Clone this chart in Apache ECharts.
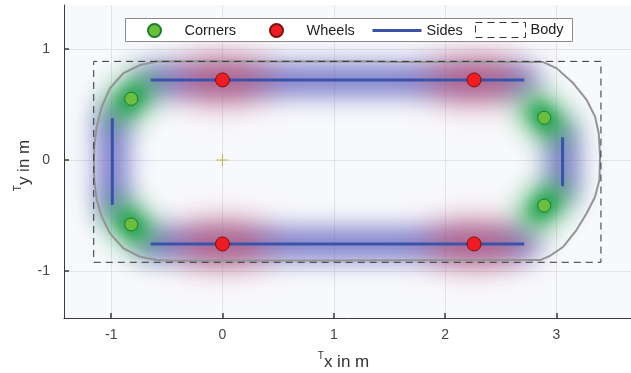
<!DOCTYPE html>
<html>
<head>
<meta charset="utf-8">
<script src="https://cdn.jsdelivr.net/npm/echarts@6/dist/echarts.min.js"></script>
<style>
  html, body { margin: 0; padding: 0; background: #ffffff; }
  #chart { width: 631px; height: 373px; }
</style>
</head>
<body>
<div id="chart"></div>
<script>
// ---- data (metres, vehicle frame) ----
const xTicks = [-1, 0, 1, 2, 3];
const yTicks = [-1, 0, 1];

// corner reference points
const cornersX = [-0.82, -0.82, 2.89, 2.89];
const cornersY = [0.55, -0.58, 0.38, -0.41];

// wheel centres
const wheelsX = [0.0, 2.26, 0.0, 2.26];
const wheelsY = [0.72, 0.72, -0.755, -0.755];

// side segments (start -> end)
const sidesX1 = [-0.645, -0.645, -0.99, 3.055];
const sidesY1 = [0.72, -0.755, 0.375, 0.205];
const sidesX2 = [2.71, 2.71, -0.99, 3.055];
const sidesY2 = [0.72, -0.755, -0.405, -0.235];

// body bounding box
const bodyX = [-1.157, 3.40];
const bodyY = [-0.92, 0.887];

// measured footprint outline (closed)
const outlineX = [-0.59, -0.2, 0.5, 1.2, 1.6, 2.2, 2.6, 2.882, 3.003, 3.152, 3.272, 3.347, 3.38, 3.392,
  3.386, 3.347, 3.272, 3.18, 3.062, 2.94, 2.853, 2.4, 1.6, 0.8, 0.0, -0.442, -0.59, -0.741, -0.891,
  -1.011, -1.085, -1.13, -1.152, -1.155, -1.152, -1.13, -1.085, -1.011, -0.891, -0.741, -0.59];
const outlineY = [0.885, 0.887, 0.886, 0.888, 0.882, 0.883, 0.882, 0.881, 0.824, 0.69, 0.54, 0.39, 0.24, 0.03,
  -0.18, -0.33, -0.479, -0.63, -0.78, -0.863, -0.9, -0.9, -0.902, -0.903, -0.904, -0.905, -0.899, -0.87, -0.794,
  -0.66, -0.51, -0.36, -0.18, 0.0, 0.12, 0.30, 0.479, 0.645, 0.78, 0.854, 0.885];

// origin marker
const originX = [0];
const originY = [0];

// ---- helpers ----
const zip = (xs, ys) => xs.map((x, i) => [x, ys[i]]);
const corners = zip(cornersX, cornersY);
const wheels = zip(wheelsX, wheelsY);
const sideSegs = sidesX1.map((x, i) => [x, sidesY1[i], sidesX2[i], sidesY2[i]]);
const outline = zip(outlineX, outlineY);
const body = [[bodyX[0], bodyY[0]], [bodyX[1], bodyY[0]], [bodyX[1], bodyY[1]], [bodyX[0], bodyY[1]], [bodyX[0], bodyY[0]]];
const bodyCx = (bodyX[0] + bodyX[1]) / 2;

// Soft halos: the shape is painted far off-canvas and only its blurred
// shadow is shifted back onto the plot.
const FAR = 3000;
function segmentHalo(width, blur, color) {
  return function (params, api) {
    const a = api.coord([api.value(0), api.value(1)]);
    const b = api.coord([api.value(2), api.value(3)]);
    return {
      type: 'line', silent: true,
      shape: { x1: a[0] + FAR, y1: a[1], x2: b[0] + FAR, y2: b[1] },
      style: { stroke: '#000', lineWidth: width, lineCap: 'round',
               shadowBlur: blur, shadowColor: color, shadowOffsetX: -FAR }
    };
  };
}
// elliptical halo; tilted along the body's rounded corner when `tilt` is set
function spotHalo(rx, ry, blur, color, tilt) {
  return function (params, api) {
    const x = api.value(0), y = api.value(1);
    const c = api.coord([x, y]);
    const s = api.size([rx, ry]);
    const rot = tilt ? -Math.sign(x - bodyCx) * Math.sign(y) * Math.PI / 4 : 0;
    return {
      type: 'ellipse', silent: true,
      x: c[0] + FAR, y: c[1], rotation: rot,
      shape: { cx: 0, cy: 0, rx: s[0], ry: s[1] },
      style: { fill: '#000', shadowBlur: blur, shadowColor: color, shadowOffsetX: -FAR }
    };
  };
}

const FONT = 'Liberation Sans, Arial, Helvetica, sans-serif';
const axisCommon = {
  type: 'value',
  axisLine: { show: true, onZero: false, lineStyle: { color: '#3a3a3a', width: 1 } },
  axisTick: { show: true, inside: true, length: 5, lineStyle: { color: '#3a3a3a', width: 1.5 } },
  axisLabel: { color: '#444', fontSize: 14, fontFamily: FONT },
  splitLine: { show: true, lineStyle: { color: '#e2e3e6', width: 1 } },
  nameLocation: 'middle',
  nameMoveOverlap: false
};
const nameRich = {
  t: { fontSize: 10, fontFamily: FONT, color: '#333', verticalAlign: 'top', lineHeight: 22 },
  v: { fontSize: 17, fontFamily: FONT, color: '#333', lineHeight: 22 }
};
const legendText = { fontSize: 14.5, fontFamily: FONT, color: '#222' };

const chart = echarts.init(document.getElementById('chart'), null, { renderer: 'canvas' });
chart.setOption({
  animation: false,
  backgroundColor: '#ffffff',
  grid: { left: 64, top: 5, right: 0, bottom: 55, show: true, backgroundColor: '#f8f9fc',
          borderWidth: 0, containLabel: false, outerBoundsMode: 'none' },
  xAxis: Object.assign({}, axisCommon, {
    min: -1.424, max: 3.67,
    axisTick: Object.assign({}, axisCommon.axisTick, { customValues: xTicks }),
    axisLabel: Object.assign({}, axisCommon.axisLabel, { customValues: xTicks, margin: 10 }),
    name: '{t|T}{v|x in m}', nameGap: 33,
    nameTextStyle: { fontFamily: FONT, color: '#333', padding: [0, 8, 0, 0], rich: nameRich }
  }),
  yAxis: Object.assign({}, axisCommon, {
    min: -1.421, max: 1.394,
    axisTick: Object.assign({}, axisCommon.axisTick, { customValues: yTicks }),
    axisLabel: Object.assign({}, axisCommon.axisLabel, { customValues: yTicks, margin: 14 }),
    name: '{t|T}{v|y in m}', nameGap: 29, nameRotate: 90,
    nameTextStyle: { fontFamily: FONT, color: '#333', padding: [0, 8, 0, 0], rich: nameRich }
  }),
  graphic: [{
    type: 'rect', z: 3, silent: true,
    shape: { x: 125.5, y: 18.5, width: 447, height: 23 },
    style: { fill: '#ffffff', stroke: '#8a8a8a', lineWidth: 1 }
  }],
  legend: [
    { data: ['Corners'], left: 147, top: 23, padding: 0, itemWidth: 50, itemHeight: 13,
      textStyle: legendText, selectedMode: false },
    { data: ['Wheels'], left: 269, top: 23, padding: 0, itemWidth: 50, itemHeight: 13,
      textStyle: legendText, selectedMode: false },
    { data: [{ name: 'Sides', icon: 'line',
               itemStyle: { color: '#3a52a8', borderColor: '#3a52a8', borderWidth: 3 } }],
      left: 371, top: 23, padding: 0, itemWidth: 49, itemHeight: 13, symbolKeepAspect: false,
      textStyle: legendText, selectedMode: false },
    { data: [{ name: 'Body', icon: 'rect',
               itemStyle: { color: 'rgba(0,0,0,0)', borderColor: '#333', borderWidth: 1, borderType: [7, 5] } }],
      left: 475, top: 22, padding: 0, itemWidth: 50, itemHeight: 15, symbolKeepAspect: false,
      textStyle: legendText, selectedMode: false }
  ],
  series: [
    // halos
    { type: 'custom', name: 'sideHalo', z: 1, data: sideSegs, renderItem: segmentHalo(28, 26, 'rgba(72,72,180,0.8)') },
    { type: 'custom', name: 'wheelHalo', z: 1, data: wheels, renderItem: spotHalo(0.42, 0.18, 34, 'rgba(214,68,85,0.66)') },
    { type: 'custom', name: 'cornerHalo', z: 1, data: corners, renderItem: spotHalo(0.28, 0.15, 28, 'rgba(20,160,60,0.85)', true) },
    { type: 'custom', name: 'cornerCore', z: 1, data: corners, renderItem: spotHalo(0.14, 0.09, 14, 'rgba(10,155,60,0.7)', true) },
    // footprint outline
    { type: 'line', name: 'outline', z: 2, data: outline, symbol: 'none', silent: true,
      lineStyle: { color: '#949494', width: 2 } },
    // body box
    { type: 'line', name: 'Body', z: 2, data: body, symbol: 'none', silent: true,
      lineStyle: { color: '#333333', width: 1, type: [7, 5] }, itemStyle: { color: '#333333' } },
    // sides
    ...sideSegs.map(s => ({
      type: 'line', name: 'Sides', z: 4, data: [[s[0], s[1]], [s[2], s[3]]], symbol: 'none', silent: true,
      lineStyle: { color: '#3a52a8', width: 3 }, itemStyle: { color: '#3a52a8' }
    })),
    // origin
    { type: 'scatter', name: 'origin', z: 4, data: zip(originX, originY), silent: true,
      symbol: 'path://M5.5,0H6.5V12H5.5ZM0,5.5H12V6.5H0Z', symbolSize: 12,
      itemStyle: { color: '#b2aa2a' } },
    // wheels
    { type: 'scatter', name: 'Wheels', z: 5, data: wheels, symbol: 'circle', symbolSize: 14,
      itemStyle: { color: '#ee1c24', borderColor: '#7a1010', borderWidth: 1, opacity: 1 } },
    // corners
    { type: 'scatter', name: 'Corners', z: 5, data: corners, symbol: 'circle', symbolSize: 13,
      itemStyle: { color: '#6abf3f', borderColor: '#1f7a2a', borderWidth: 1, opacity: 1 } }
  ]
});
</script>
</body>
</html>
